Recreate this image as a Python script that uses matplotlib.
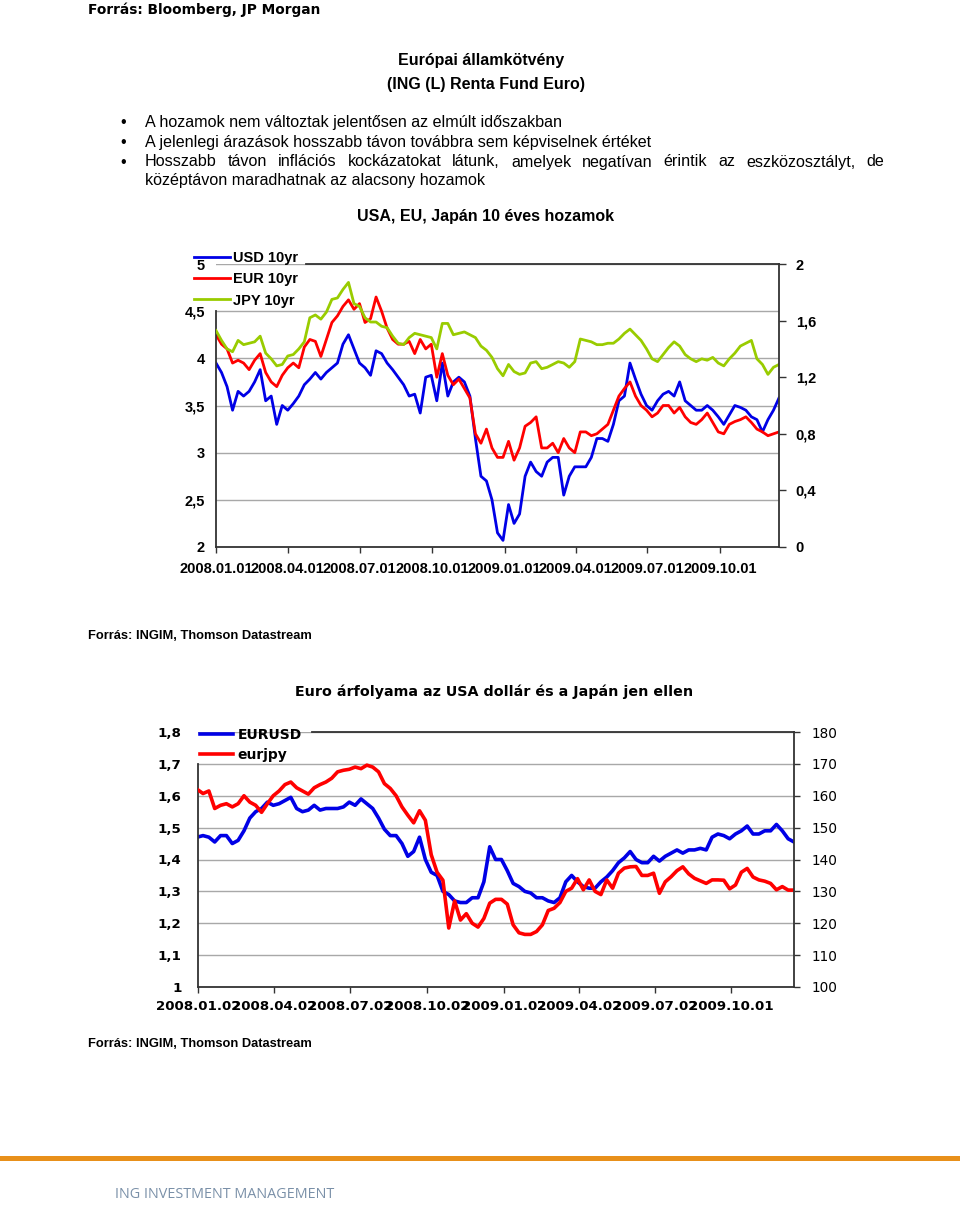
import matplotlib
matplotlib.use('Agg')
import matplotlib.pyplot as plt
import matplotlib.dates as mdates
import pandas as pd
from matplotlib.patches import Rectangle
from matplotlib.font_manager import FontProperties

# weekly readings, 2008-01-01 .. 2009-12-15
dates = pd.date_range('2008-01-01', periods=103, freq='7D')

usd_10yr = [3.95, 3.85, 3.7, 3.45, 3.65, 3.6, 3.65, 3.75, 3.88, 3.55,
            3.6, 3.3, 3.5, 3.45, 3.52, 3.6, 3.72, 3.78, 3.85, 3.78,
            3.85, 3.9, 3.95, 4.15, 4.25, 4.1, 3.95, 3.9, 3.82, 4.08,
            4.05, 3.95, 3.88, 3.8, 3.72, 3.6, 3.62, 3.42, 3.8, 3.82,
            3.55, 3.95, 3.6, 3.75, 3.8, 3.75, 3.6, 3.15, 2.75, 2.7,
            2.5, 2.15, 2.07, 2.45, 2.25, 2.35, 2.75, 2.9, 2.8, 2.75,
            2.9, 2.95, 2.95, 2.55, 2.75, 2.85, 2.85, 2.85, 2.95, 3.15,
            3.15, 3.12, 3.3, 3.55, 3.6, 3.95, 3.78, 3.62, 3.5, 3.45,
            3.55, 3.62, 3.65, 3.6, 3.75, 3.55, 3.5, 3.45, 3.45, 3.5,
            3.45, 3.38, 3.3, 3.4, 3.5, 3.48, 3.45, 3.38, 3.35, 3.22,
            3.35, 3.45, 3.58]

eur_10yr = [4.25, 4.15, 4.1, 3.95, 3.98, 3.95, 3.88, 3.98, 4.05, 3.85,
            3.75, 3.7, 3.82, 3.9, 3.95, 3.9, 4.12, 4.2, 4.18, 4.02,
            4.2, 4.38, 4.45, 4.55, 4.62, 4.52, 4.58, 4.38, 4.42, 4.65,
            4.5, 4.32, 4.2, 4.15, 4.15, 4.18, 4.05, 4.2, 4.1, 4.15,
            3.8, 4.05, 3.82, 3.72, 3.78, 3.68, 3.58, 3.2, 3.1, 3.25,
            3.05, 2.95, 2.95, 3.12, 2.92, 3.05, 3.28, 3.32, 3.38, 3.05,
            3.05, 3.1, 3.0, 3.15, 3.05, 3.0, 3.22, 3.22, 3.18, 3.2,
            3.25, 3.3, 3.45, 3.6, 3.68, 3.75, 3.6, 3.5, 3.45, 3.38,
            3.42, 3.5, 3.5, 3.42, 3.48, 3.38, 3.32, 3.3, 3.35, 3.42,
            3.32, 3.22, 3.2, 3.3, 3.33, 3.35, 3.38, 3.32, 3.25, 3.22,
            3.18, 3.2, 3.22]

jpy_10yr = [1.53, 1.46, 1.40, 1.38, 1.46, 1.43, 1.44, 1.45, 1.49, 1.37,
            1.33, 1.28, 1.29, 1.35, 1.36, 1.40, 1.45, 1.62, 1.64, 1.61,
            1.66, 1.75, 1.76, 1.82, 1.87, 1.72, 1.70, 1.62, 1.59, 1.59,
            1.56, 1.55, 1.49, 1.44, 1.43, 1.48, 1.51, 1.50, 1.49, 1.48,
            1.40, 1.58, 1.58, 1.50, 1.51, 1.52, 1.50, 1.48, 1.42, 1.39,
            1.34, 1.26, 1.21, 1.29, 1.24, 1.22, 1.23, 1.30, 1.31, 1.26,
            1.27, 1.29, 1.31, 1.30, 1.27, 1.31, 1.47, 1.46, 1.45, 1.43,
            1.43, 1.44, 1.44, 1.47, 1.51, 1.54, 1.50, 1.46, 1.40, 1.33,
            1.31, 1.36, 1.41, 1.45, 1.42, 1.36, 1.33, 1.31, 1.33, 1.32,
            1.34, 1.30, 1.28, 1.33, 1.37, 1.42, 1.44, 1.46, 1.33, 1.29,
            1.22, 1.27, 1.29]

eurusd = [1.47, 1.475, 1.47, 1.455, 1.475, 1.475, 1.45, 1.46, 1.49, 1.53,
          1.55, 1.56, 1.58, 1.57, 1.575, 1.585, 1.595, 1.56, 1.55, 1.555,
          1.57, 1.555, 1.56, 1.56, 1.56, 1.565, 1.58, 1.57, 1.59, 1.575,
          1.56, 1.53, 1.495, 1.475, 1.475, 1.45, 1.41, 1.425, 1.47, 1.40,
          1.36, 1.35, 1.30, 1.29, 1.27, 1.265, 1.265, 1.28, 1.28, 1.33,
          1.44, 1.40, 1.40, 1.365, 1.325, 1.315, 1.30, 1.295, 1.28, 1.28,
          1.27, 1.265, 1.28, 1.33, 1.35, 1.33, 1.315, 1.31, 1.31, 1.33,
          1.345, 1.365, 1.39, 1.405, 1.425, 1.40, 1.39, 1.39, 1.41, 1.395,
          1.41, 1.42, 1.43, 1.42, 1.43, 1.43, 1.435, 1.43, 1.47, 1.48,
          1.475, 1.465, 1.48, 1.49, 1.505, 1.48, 1.48, 1.49, 1.49, 1.51,
          1.49, 1.465, 1.455]

eurjpy = [162, 160.7, 161.5, 156, 157, 157.5, 156.5, 157.5, 160, 158,
          157, 154.8, 157.5, 160, 161.5, 163.5, 164.3, 162.5, 161.5, 160.5,
          162.5, 163.5, 164.3, 165.5, 167.5, 168, 168.3, 169, 168.5, 169.6,
          169, 167.5, 163.8, 162.3, 160, 156.5, 153.9, 151.5, 155.3, 152.3,
          141.5, 136, 133.5, 118.5, 127, 121, 123, 120, 118.8, 121.5,
          126.3, 127.5, 127.5, 126, 119.5, 117, 116.5, 116.5, 117.4, 119.5,
          124, 124.7, 126.5, 130, 131, 134, 130.5, 133.6, 130, 129,
          133.6, 131, 135.7, 137.3, 137.7, 137.8, 135, 135, 135.7, 129.4,
          133, 134.6, 136.5, 137.7, 135.5, 134.1, 133.3, 132.5, 133.6, 133.6,
          133.5, 130.8, 132, 136, 137.2, 134.5, 133.6, 133.2, 132.5, 130.5,
          131.5, 130.4, 130.4]

top_xticks = ['2008-01-01', '2008-04-01', '2008-07-01', '2008-10-01',
              '2009-01-01', '2009-04-01', '2009-07-01', '2009-10-01']
top_xlabels = ['2008.01.01', '2008.04.01', '2008.07.01', '2008.10.01',
               '2009.01.01', '2009.04.01', '2009.07.01', '2009.10.01']
bot_xticks = ['2008-01-02', '2008-04-02', '2008-07-02', '2008-10-02',
              '2009-01-02', '2009-04-02', '2009-07-02', '2009-10-01']
bot_xlabels = ['2008.01.02', '2008.04.02', '2008.07.02', '2008.10.02',
               '2009.01.02', '2009.04.02', '2009.07.02', '2009.10.01']

bullets = ['A hozamok nem változtak jelentősen az elmúlt időszakban',
           'A jelenlegi árazások hosszabb távon továbbra sem képviselnek értéket',
           'Hosszabb távon inflációs kockázatokat látunk, amelyek negatívan érintik az eszközosztályt, de',
           'középtávon maradhatnak az alacsony hozamok']

W, H = 960, 1206
fig = plt.figure(figsize=(W / 100, H / 100), dpi=100)


def px(x, y):
    return x / W, 1 - y / H


def dnum(s):
    return mdates.date2num(pd.Timestamp(s))


GOTHIC = 'DejaVu Sans'
ARIAL = 'Liberation Sans'
BLUE, RED, GREEN = '#0000e6', '#ff0000', '#99cc00'
GRID = '#a8a8a8'
SPINE = '#333333'

# header texts
fig.text(*px(88, 10), 'Forrás: Bloomberg, JP Morgan', family=GOTHIC,
         weight='bold', size=9.9, va='center')
fig.text(*px(481, 60), 'Európai államkötvény', family=ARIAL, weight='bold',
         size=11.5, ha='center', va='center')
fig.text(*px(486, 84), '(ING (L) Renta Fund Euro)', family=ARIAL,
         weight='bold', size=11.5, ha='center', va='center')

text_kw = dict(family=ARIAL, size=11.6, va='center')
line_y = [122, 142, 162, 181]
for y in line_y[:3]:
    fig.text(*px(120, y), '•', **text_kw)
fig.text(*px(145, line_y[0]), bullets[0], **text_kw)
fig.text(*px(145, line_y[1]), bullets[1], **text_kw)
fig.text(*px(145, line_y[3]), bullets[3], **text_kw)

# justified third line
renderer = fig.canvas.get_renderer()
words = bullets[2].split()
wtexts = [fig.text(0, 0, w, **text_kw) for w in words]
widths = [t.get_window_extent(renderer).width for t in wtexts]
gap = (884 - 145 - sum(widths)) / (len(words) - 1)
x = 145
for t, w in zip(wtexts, widths):
    t.set_position(px(x, line_y[2]))
    x += w + gap

fig.text(*px(486, 217), 'USA, EU, Japán 10 éves hozamok', family=ARIAL,
         weight='bold', size=11.5, ha='center', va='center')

# ---- top chart ----
ax = fig.add_axes([216 / W, 1 - 547 / H, (779 - 216) / W, (547 - 264) / H])
l1, = ax.plot(dates, usd_10yr, color=BLUE, lw=2)
l2, = ax.plot(dates, eur_10yr, color=RED, lw=2)
ax2 = ax.twinx()
l3, = ax2.plot(dates, jpy_10yr, color=GREEN, lw=2)

ax.set_xlim(pd.Timestamp('2008-01-01'), dates[-1])
ax.set_ylim(2, 5)
ax.set_yticks([2, 2.5, 3, 3.5, 4, 4.5, 5])
ax.set_yticklabels(['2', '2,5', '3', '3,5', '4', '4,5', '5'])
ax2.set_ylim(0, 2)
ax2.set_yticks([0, 0.4, 0.8, 1.2, 1.6, 2])
ax2.set_yticklabels(['0', '0,4', '0,8', '1,2', '1,6', '2'])
ax.set_xticks(pd.to_datetime(top_xticks))
ax.set_xticklabels(top_xlabels)
ax.yaxis.grid(True, color=GRID, lw=1)
ax.set_axisbelow(True)

for a in (ax, ax2):
    for s in a.spines.values():
        s.set_color(SPINE)
        s.set_linewidth(1.3)
for s in ('left', 'top', 'bottom'):
    ax2.spines[s].set_visible(False)
ax.spines['right'].set_visible(False)
ax.spines['left'].set_bounds(2, 4.5)
ax.spines['top'].set_bounds(dnum('2008-04-24'), mdates.date2num(dates[-1]))

tk = FontProperties(family=ARIAL, weight='bold', size=10.5)
ax.tick_params(axis='x', length=4, width=1, color=SPINE, pad=7)
ax.tick_params(axis='y', length=0, pad=8)
ax2.tick_params(axis='y', length=5, width=1, color=SPINE, pad=7)
for lab in ax.get_xticklabels() + ax.get_yticklabels() + ax2.get_yticklabels():
    lab.set_fontproperties(tk)

fig.legend([l1, l2, l3], ['USD 10yr', 'EUR 10yr', 'JPY 10yr'],
           loc='upper left', bbox_to_anchor=px(194, 251), frameon=False,
           prop=dict(family=ARIAL, weight='bold', size=10.5),
           handlelength=2.45, handletextpad=0.25, labelspacing=0.5,
           borderpad=0, borderaxespad=0)

fig.text(*px(88, 636), 'Forrás: INGIM, Thomson Datastream', family=ARIAL,
         weight='bold', size=9.3, va='center')

# ---- bottom chart ----
fig.text(*px(494, 692), 'Euro árfolyama az USA dollár és a Japán jen ellen',
         family=GOTHIC, weight='bold', size=10.3, ha='center', va='center')

bx = fig.add_axes([198 / W, 1 - 987 / H, (794 - 198) / W, (987 - 732) / H])
b1, = bx.plot(dates, eurusd, color=BLUE, lw=2.6)
bx2 = bx.twinx()
b2, = bx2.plot(dates, eurjpy, color=RED, lw=2.6)

bx.set_xlim(pd.Timestamp('2008-01-02'), dates[-1])
bx.set_ylim(1, 1.8)
bx.set_yticks([1, 1.1, 1.2, 1.3, 1.4, 1.5, 1.6, 1.7, 1.8])
bx.set_yticklabels(['1', '1,1', '1,2', '1,3', '1,4', '1,5', '1,6', '1,7', '1,8'])
bx2.set_ylim(100, 180)
bx2.set_yticks(range(100, 181, 10))
bx.set_xticks(pd.to_datetime(bot_xticks))
bx.set_xticklabels(bot_xlabels)
bx.yaxis.grid(True, color=GRID, lw=1)
bx.set_axisbelow(True)

for a in (bx, bx2):
    for s in a.spines.values():
        s.set_color(SPINE)
        s.set_linewidth(1.3)
for s in ('left', 'top', 'bottom'):
    bx2.spines[s].set_visible(False)
bx.spines['right'].set_visible(False)
bx.spines['left'].set_bounds(1, 1.7)
bx.spines['top'].set_bounds(dnum('2008-05-17'), mdates.date2num(dates[-1]))

bx.tick_params(axis='x', length=4, width=1, color=SPINE, pad=5)
bx.tick_params(axis='y', length=0, pad=12)
bx2.tick_params(axis='y', length=4, width=1, color=SPINE, pad=9)
for lab in bx.get_xticklabels() + bx.get_yticklabels():
    lab.set_fontproperties(FontProperties(family=GOTHIC, weight='bold', size=9.6))
for lab in bx2.get_yticklabels():
    lab.set_fontproperties(FontProperties(family=GOTHIC, size=9.8))

fig.legend([b1, b2], ['EURUSD', 'eurjpy'], loc='upper left',
           bbox_to_anchor=px(200, 728), frameon=False,
           prop=dict(family=GOTHIC, weight='bold', size=10),
           handlelength=2.4, handletextpad=0.3, labelspacing=0.42,
           borderpad=0, borderaxespad=0)

fig.text(*px(88, 1044), 'Forrás: INGIM, Thomson Datastream', family=ARIAL,
         weight='bold', size=9.3, va='center')

# footer
fig.add_artist(Rectangle(px(0, 1161), 1, 5 / H, transform=fig.transFigure,
                         color='#e8901a', lw=0))
fig.text(*px(115, 1195), 'ING INVESTMENT MANAGEMENT', family='Open Sans',
         size=10.4, color='#7a90a8', va='center')

fig.savefig('out.png', dpi=100)
